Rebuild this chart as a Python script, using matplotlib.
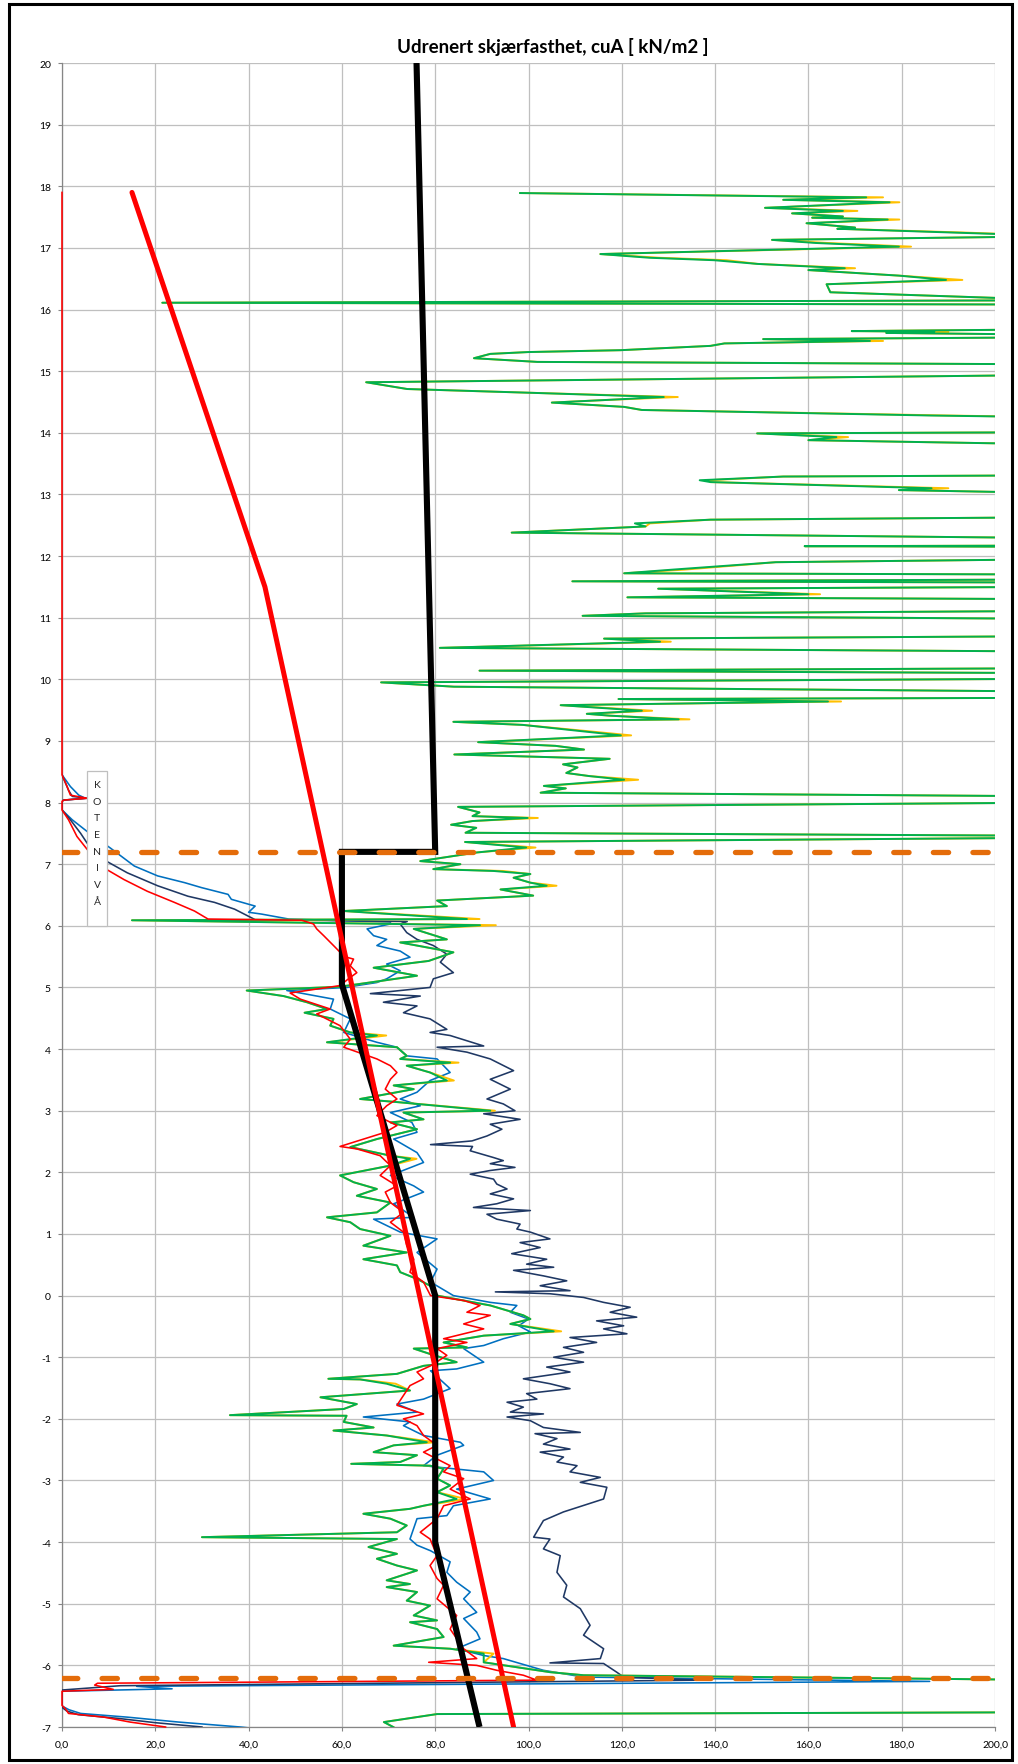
import numpy as np
import matplotlib
matplotlib.use("Agg")
import matplotlib.pyplot as plt
from matplotlib.patches import Rectangle
from matplotlib.ticker import FuncFormatter

plt.rcParams['font.family'] = ['Lato', 'DejaVu Sans']
plt.rcParams['axes.unicode_minus'] = False

# ---------------------------------------------------------------- data
title = "Udrenert skjærfasthet, cuA [ kN/m2 ]"
x_ticks = [0, 20, 40, 60, 80, 100, 120, 140, 160, 180, 200]
y_ticks = list(range(-7, 21))
level_label = "KOTENIVÅ"

# Profile 1 (dark blue): level [m] and cuA [kN/m2]
navy_z = [8.45, 8.20, 8.10, 8.07, 8.04, 8.02, 7.88, 7.72, 7.50, 7.34,
          7.10, 6.86, 6.65, 6.48, 6.38, 6.27, 6.10, 6.07, 6.03, 5.89,
          5.78, 5.68, 5.54, 5.41, 5.24, 5.14, 5.00, 4.90, 4.86, 4.76,
          4.70, 4.59, 4.49, 4.32, 4.27, 4.22, 4.05, 4.03, 3.95, 3.84,
          3.65, 3.51, 3.35, 3.19, 3.11, 3.00, 2.95, 2.86, 2.78, 2.70,
          2.59, 2.51, 2.45, 2.42, 2.35, 2.24, 2.19, 2.14, 2.08, 2.03,
          1.97, 1.89, 1.81, 1.73, 1.65, 1.57, 1.49, 1.43, 1.38, 1.32,
          1.24, 1.16, 1.08, 1.03, 0.92, 0.86, 0.78, 0.68, 0.59, 0.51,
          0.46, 0.41, 0.32, 0.24, 0.16, 0.08, 0.06, 0.03, -0.03, -0.11,
          -0.19, -0.27, -0.35, -0.41, -0.49, -0.54, -0.62, -0.68, -0.76, -0.84,
          -0.92, -1.00, -1.08, -1.16, -1.24, -1.35, -1.43, -1.51, -1.59, -1.68,
          -1.73, -1.81, -1.89, -1.92, -1.97, -2.03, -2.14, -2.22, -2.24, -2.32,
          -2.41, -2.49, -2.54, -2.62, -2.70, -2.76, -2.86, -2.95, -3.03, -3.11,
          -3.30, -3.51, -3.65, -3.92, -3.95, -4.11, -4.22, -4.49, -4.70, -4.89,
          -5.08, -5.35, -5.51, -5.73, -5.89, -5.96, -5.97, -6.11, -6.19, -6.24,
          -6.33, -6.40, -6.68, -6.74, -6.80, -6.86, -6.93, -7.00]
navy_cu = [0.0, 1.4, 2.2, 5.4, 0.4, 0.0, 0.0, 1.8, 4.0, 5.4,
           8.3, 14.0, 20.5, 27.0, 32.7, 37.0, 41.4, 74.0, 72.5, 73.9,
           76.1, 79.6, 82.5, 81.1, 83.9, 79.6, 78.9, 66.1, 76.8, 68.9,
           76.1, 73.2, 78.9, 82.5, 78.9, 83.2, 90.4, 80.4, 86.8, 91.8,
           96.8, 91.8, 96.1, 91.1, 94.6, 97.1, 90.4, 98.2, 91.8, 94.3,
           91.1, 87.9, 79.0, 88.0, 87.5, 92.5, 94.6, 91.8, 97.1, 91.8,
           87.5, 92.5, 93.2, 95.4, 91.8, 96.8, 93.2, 88.2, 100.4, 91.1,
           93.2, 98.2, 97.5, 100.4, 104.6, 98.2, 102.5, 96.4, 103.9, 99.6,
           105.4, 96.8, 103.2, 108.2, 102.5, 108.9, 92.9, 104.6, 111.8, 116.1,
           121.8, 117.5, 123.2, 114.6, 120.4, 116.1, 121.1, 108.9, 114.6, 107.5,
           111.8, 105.4, 111.8, 103.9, 108.9, 98.9, 104.6, 108.9, 99.6, 101.8,
           95.4, 98.9, 96.1, 103.2, 95.4, 100.4, 103.2, 111.1, 101.4, 106.1,
           103.2, 108.9, 102.5, 107.5, 106.1, 110.4, 108.9, 115.4, 111.1, 116.8,
           116.1, 107.5, 103.2, 101.1, 104.6, 103.2, 106.8, 106.1, 108.2, 107.5,
           111.1, 113.2, 111.8, 116.1, 115.4, 104.6, 116.1, 118.9, 120.4, 137.0,
           12.5, 0.0, 0.0, 1.0, 3.5, 12.0, 20.0, 30.0]

# Profile 2 (blue)
blue_z = [8.45, 8.26, 8.12, 8.07, 8.04, 8.02, 7.88, 7.72, 7.53, 7.26,
          6.97, 6.81, 6.70, 6.62, 6.51, 6.43, 6.32, 6.22, 6.19, 6.11,
          6.06, 6.03, 5.95, 5.84, 5.78, 5.68, 5.59, 5.49, 5.38, 5.27,
          5.14, 5.08, 5.03, 5.00, 4.95, 4.81, 4.65, 4.49, 4.27, 4.11,
          4.03, 3.89, 3.84, 3.62, 3.49, 3.30, 3.19, 3.08, 2.97, 2.81,
          2.65, 2.54, 2.32, 2.16, 1.95, 1.78, 1.68, 1.49, 1.27, 1.24,
          1.03, 0.92, 0.70, 0.43, 0.22, 0.00, -0.11, -0.16, -0.27, -0.38,
          -0.49, -0.59, -0.70, -0.81, -0.86, -1.08, -1.19, -1.22, -1.51, -1.68,
          -1.76, -1.89, -1.97, -2.05, -2.11, -2.27, -2.38, -2.43, -2.59, -2.76,
          -2.86, -3.00, -3.14, -3.30, -3.41, -3.57, -3.62, -3.95, -4.05, -4.14,
          -4.32, -4.49, -4.65, -4.81, -4.92, -5.14, -5.24, -5.46, -5.57, -5.73,
          -5.84, -5.89, -6.08, -6.19, -6.26, -6.34, -6.38, -6.42, -6.66, -6.72,
          -6.78, -6.84, -6.92, -7.00, -7.03]
blue_cu = [0.0, 1.8, 3.6, 5.0, 0.3, 0.0, 0.0, 2.2, 5.4, 10.4,
           15.5, 20.5, 26.3, 29.9, 35.6, 36.3, 41.4, 40.0, 42.8, 48.6,
           70.4, 70.4, 65.4, 66.8, 69.6, 67.5, 72.5, 74.6, 69.6, 72.5,
           69.6, 67.5, 63.2, 61.1, 48.2, 58.2, 57.5, 61.8, 60.4, 67.5,
           71.8, 73.9, 80.4, 83.2, 78.9, 76.1, 72.5, 76.8, 70.4, 75.0,
           76.1, 71.1, 76.1, 77.5, 70.4, 75.4, 77.5, 71.1, 75.4, 66.8,
           72.5, 80.4, 76.1, 80.4, 79.0, 83.9, 91.8, 97.5, 96.1, 100.0,
           97.9, 100.4, 94.6, 90.4, 86.1, 90.4, 84.6, 79.0, 83.2, 77.5,
           71.8, 76.1, 64.6, 74.6, 73.2, 77.5, 85.4, 86.1, 80.4, 77.5,
           90.4, 92.5, 84.6, 91.8, 83.9, 82.5, 76.1, 74.6, 76.1, 79.0,
           83.2, 82.5, 84.6, 87.5, 86.1, 88.9, 86.1, 88.9, 89.6, 84.6,
           90.4, 94.6, 103.2, 111.8, 186.0, 16.0, 23.6, 0.0, 0.0, 1.5,
           4.0, 14.0, 25.0, 38.2, 42.0]

# Profile 3 (red, thin)
red_z = [17.90, 8.45, 8.26, 8.12, 8.07, 8.04, 8.02, 7.88, 7.72, 7.45,
         7.24, 6.97, 6.75, 6.56, 6.38, 6.24, 6.11, 6.09, 6.03, 5.95,
         5.84, 5.68, 5.51, 5.49, 5.46, 5.35, 5.24, 5.14, 5.03, 4.91,
         4.81, 4.65, 4.57, 4.38, 4.16, 4.03, 3.84, 3.73, 3.62, 3.51,
         3.35, 3.19, 3.08, 2.92, 2.76, 2.65, 2.42, 2.38, 2.27, 2.11,
         1.95, 1.78, 1.68, 1.51, 1.35, 1.19, 1.03, 0.81, 0.59, 0.38,
         0.22, 0.00, -0.08, -0.16, -0.27, -0.32, -0.46, -0.54, -0.70, -0.76,
         -0.86, -0.97, -1.14, -1.24, -1.35, -1.46, -1.78, -1.92, -2.00, -2.11,
         -2.27, -2.43, -2.54, -2.76, -2.86, -2.97, -3.14, -3.30, -3.41, -3.62,
         -3.84, -3.95, -4.22, -4.38, -4.59, -4.70, -4.92, -5.19, -5.41, -5.73,
         -5.89, -5.95, -6.00, -6.08, -6.16, -6.24, -6.29, -6.32, -6.39, -6.42,
         -6.65, -6.70, -6.78, -6.84, -6.92, -7.00]
red_cu = [0.0, 0.0, 1.1, 1.8, 5.4, 0.4, 0.0, 0.0, 1.4, 3.2,
          5.4, 8.3, 13.3, 18.3, 24.1, 28.4, 31.3, 51.4, 53.9, 54.6,
          56.1, 58.2, 60.4, 61.0, 62.5, 61.8, 63.2, 61.4, 59.6, 48.9,
          51.1, 57.5, 54.6, 59.6, 61.8, 60.4, 67.5, 70.4, 71.8, 70.4,
          69.3, 71.8, 69.6, 67.5, 71.8, 69.3, 59.6, 63.2, 68.2, 70.4,
          68.2, 71.8, 69.3, 70.4, 73.2, 70.4, 73.2, 73.9, 75.4, 74.6,
          77.5, 79.0, 86.1, 89.6, 86.8, 91.8, 86.1, 90.4, 81.8, 86.8,
          80.4, 82.5, 79.0, 76.1, 77.5, 74.6, 71.8, 77.5, 73.2, 76.1,
          77.5, 80.4, 77.5, 83.2, 81.8, 86.1, 83.2, 87.5, 81.8, 80.4,
          76.8, 78.9, 80.4, 78.9, 80.4, 81.8, 80.4, 84.6, 83.2, 86.1,
          88.9, 78.6, 88.9, 93.2, 98.9, 101.8, 7.6, 7.0, 11.0, 0.0,
          0.0, 0.7, 1.4, 9.0, 14.6, 22.2]

# Profile 4 (green)
green_z = [17.89, 17.82, 17.78, 17.74, 17.65, 17.60, 17.56, 17.51, 17.49, 17.46,
           17.40, 17.33, 17.31, 17.25, 17.19, 17.13, 17.08, 17.02, 16.90, 16.84,
           16.80, 16.74, 16.67, 16.64, 16.55, 16.48, 16.41, 16.28, 16.15, 16.11,
           16.08, 15.68, 15.65, 15.64, 15.62, 15.59, 15.55, 15.52, 15.49, 15.45,
           15.41, 15.34, 15.31, 15.28, 15.21, 15.15, 15.11, 14.94, 14.82, 14.71,
           14.65, 14.58, 14.53, 14.49, 14.42, 14.37, 14.28, 14.25, 14.01, 13.99,
           13.93, 13.88, 13.81, 13.31, 13.29, 13.23, 13.20, 13.10, 13.07, 13.02,
           12.63, 12.59, 12.53, 12.48, 12.38, 12.29, 12.17, 12.16, 12.15, 11.95,
           11.90, 11.78, 11.72, 11.70, 11.62, 11.59, 11.57, 11.50, 11.47, 11.38,
           11.33, 11.30, 11.11, 11.07, 11.03, 10.98, 10.70, 10.66, 10.61, 10.51,
           10.45, 10.18, 10.14, 10.10, 10.01, 9.95, 9.88, 9.80, 9.70, 9.68,
           9.64, 9.58, 9.49, 9.44, 9.41, 9.35, 9.31, 9.26, 9.09, 8.98,
           8.92, 8.86, 8.78, 8.71, 8.62, 8.57, 8.48, 8.43, 8.37, 8.27,
           8.23, 8.16, 8.10, 8.00, 7.93, 7.84, 7.78, 7.75, 7.70, 7.64,
           7.59, 7.51, 7.46, 7.43, 7.36, 7.27, 7.19, 7.05, 7.00, 6.92,
           6.89, 6.84, 6.78, 6.70, 6.65, 6.59, 6.49, 6.41, 6.32, 6.24,
           6.11, 6.09, 6.01, 5.95, 5.78, 5.73, 5.57, 5.43, 5.32, 5.19,
           5.05, 5.01, 4.95, 4.86, 4.76, 4.65, 4.59, 4.49, 4.38, 4.27,
           4.22, 4.11, 4.03, 3.89, 3.84, 3.78, 3.73, 3.62, 3.49, 3.41,
           3.35, 3.19, 3.14, 3.00, 2.97, 2.86, 2.81, 2.70, 2.54, 2.41,
           2.27, 2.22, 2.11, 1.95, 1.84, 1.73, 1.62, 1.51, 1.35, 1.27,
           1.19, 1.08, 0.97, 0.81, 0.70, 0.59, 0.49, 0.38, 0.27, 0.16,
           0.00, -0.08, -0.16, -0.32, -0.38, -0.46, -0.58, -0.65, -0.76, -0.84,
           -0.86, -0.95, -1.08, -1.14, -1.27, -1.35, -1.36, -1.43, -1.54, -1.65,
           -1.76, -1.84, -1.94, -1.95, -2.05, -2.14, -2.19, -2.27, -2.38, -2.43,
           -2.54, -2.59, -2.70, -2.73, -2.76, -2.81, -2.97, -3.08, -3.19, -3.30,
           -3.41, -3.46, -3.54, -3.62, -3.73, -3.84, -3.92, -3.95, -4.08, -4.19,
           -4.27, -4.38, -4.46, -4.62, -4.68, -4.73, -4.81, -4.95, -5.03, -5.19,
           -5.27, -5.30, -5.41, -5.54, -5.68, -5.73, -5.81, -5.95, -6.03, -6.11,
           -6.16, -6.24, -6.76, -6.79, -6.92, -7.00, -7.05]
green_cu = [98.2, 172.4, 154.6, 177.4, 150.7, 167.4, 156.5, 167.4, 160.8, 177.0,
            159.6, 170.0, 166.2, 190.2, 215.0, 152.2, 161.5, 179.4, 115.4, 125.9,
            139.8, 149.1, 167.8, 160.0, 179.4, 189.5, 163.9, 164.7, 215.0, 21.5,
            215.0, 215.0, 169.3, 187.0, 176.7, 215.0, 215.0, 150.3, 173.2, 142.0,
            139.0, 119.7, 100.0, 91.8, 88.3, 101.9, 215.0, 215.0, 65.2, 74.0,
            100.0, 129.0, 116.0, 105.0, 120.5, 124.3, 186.4, 215.0, 215.0, 149.0,
            166.0, 160.0, 215.0, 215.0, 154.6, 136.7, 139.0, 186.4, 179.4, 215.0,
            215.0, 139.0, 122.8, 125.1, 96.4, 215.0, 215.0, 159.2, 215.0, 215.0,
            153.0, 131.0, 120.5, 215.0, 215.0, 109.4, 215.0, 215.0, 127.8, 160.0,
            121.2, 215.0, 215.0, 125.1, 111.6, 215.0, 215.0, 116.2, 128.2, 81.0,
            215.0, 215.0, 89.5, 215.0, 215.0, 68.4, 84.0, 215.0, 215.0, 119.3,
            164.2, 106.9, 124.3, 112.5, 117.4, 132.2, 83.9, 98.8, 119.8, 89.2,
            105.8, 111.9, 84.1, 117.4, 107.4, 110.5, 108.1, 113.0, 120.5, 103.3,
            108.0, 102.6, 215.0, 215.0, 84.9, 89.5, 88.0, 99.8, 88.0, 83.4,
            88.8, 86.5, 215.0, 215.0, 86.4, 99.5, 88.9, 76.8, 85.4, 79.6,
            92.5, 100.4, 96.8, 100.4, 103.9, 94.0, 101.0, 80.4, 82.5, 60.4,
            86.8, 15.0, 89.6, 75.4, 82.5, 72.5, 83.9, 78.6, 66.8, 76.1,
            63.2, 59.3, 39.6, 47.5, 52.5, 56.8, 52.0, 58.2, 57.5, 61.8,
            67.5, 56.8, 71.8, 73.9, 72.5, 83.2, 73.9, 78.9, 82.5, 71.1,
            75.4, 63.9, 71.8, 91.8, 73.2, 77.5, 70.4, 76.1, 67.5, 61.8,
            70.4, 74.6, 70.4, 59.6, 62.5, 67.5, 63.2, 70.4, 67.5, 56.8,
            61.8, 63.9, 70.4, 64.6, 73.9, 64.6, 71.8, 72.5, 76.1, 78.9,
            80.4, 86.1, 91.8, 98.9, 100.4, 96.1, 105.4, 90.4, 81.8, 86.8,
            75.4, 79.0, 84.6, 77.5, 71.8, 57.1, 63.9, 69.6, 74.6, 55.4,
            63.2, 60.4, 36.0, 61.0, 60.4, 66.8, 58.2, 69.6, 78.2, 71.1,
            66.8, 76.1, 72.5, 62.0, 78.9, 81.8, 80.4, 83.2, 80.4, 84.6,
            77.5, 74.6, 64.6, 70.4, 73.9, 71.8, 30.0, 71.8, 65.7, 71.8,
            67.5, 71.8, 76.1, 69.6, 74.6, 69.6, 76.1, 73.9, 78.9, 75.4,
            80.4, 74.6, 80.4, 81.8, 71.1, 83.2, 90.4, 90.4, 97.5, 104.6,
            111.8, 215.0, 215.0, 80.4, 69.0, 71.0, 72.0]

# Profile 5 (yellow) follows profile 4 except at these levels
yellow_z = [17.82, 17.74, 17.60, 17.46, 17.25, 17.08, 17.02, 16.84, 16.80, 16.67,
            16.48, 15.64, 15.49, 14.58, 14.28, 13.93, 13.23, 13.10, 12.53, 11.78,
            11.38, 10.61, 9.64, 9.49, 9.35, 9.09, 8.37, 7.75, 7.27, 6.89,
            6.65, 6.11, 6.01, 4.22, 3.78, 3.49, 3.00, 2.22, -0.58, -1.43,
            -2.38, -3.30, -5.81]
yellow_cu = [176.0, 179.5, 170.5, 179.5, 193.0, 164.0, 182.0, 128.0, 142.5, 170.0,
             193.0, 190.0, 176.0, 132.0, 190.0, 168.5, 138.5, 190.0, 126.0, 133.5,
             162.5, 130.5, 167.0, 126.5, 134.5, 122.0, 123.5, 102.0, 101.5, 94.5,
             106.0, 89.5, 93.0, 69.5, 85.0, 84.0, 92.8, 76.0, 107.0, 71.5,
             80.0, 86.5, 92.5]

# Design line (black) and trend line (red)
design_z = [20.0, 7.2, 7.2, 5.05, 0.0, -4.0, -7.0]
design_cu = [76.0, 80.0, 60.0, 60.0, 80.0, 80.0, 89.5]
trend_z = [17.9, 11.5, -7.0]
trend_cu = [15.0, 43.5, 96.8]

# Layer boundaries (orange dashed)
boundary_z = [7.2, -6.2]

# ---------------------------------------------------------------- figure
W, H = 1018, 1765
fig = plt.figure(figsize=(W / 100, H / 100), dpi=100)
ax = fig.add_axes([62 / W, 1 - 1728 / H, (995 - 62) / W, (1728 - 64) / H])
ax.set_xlim(0, 200)
ax.set_ylim(-7, 20)

for name, arr in [("navy", (navy_z, navy_cu)), ("blue", (blue_z, blue_cu)),
                  ("red", (red_z, red_cu)), ("green", (green_z, green_cu)),
                  ("yellow", (yellow_z, yellow_cu))]:
    assert len(arr[0]) == len(arr[1]), name

green_z_a = np.array(green_z)
yellow_line = np.array(green_cu, dtype=float)
for z, v in zip(yellow_z, yellow_cu):
    yellow_line[np.argmin(np.abs(green_z_a - z))] = v

lw_thin = 1.15
ax.plot(blue_cu, blue_z, color="#0070C0", lw=lw_thin, zorder=3)
ax.plot(navy_cu, navy_z, color="#1F3864", lw=lw_thin, zorder=3)
ax.plot(yellow_line, green_z, color="#FFC000", lw=1.4, zorder=4)
ax.plot(green_cu, green_z, color="#00B050", lw=1.4, zorder=5)
ax.plot(red_cu, red_z, color="#FF0000", lw=lw_thin, zorder=6, clip_on=False)

ax.plot(design_cu, design_z, color="black", lw=4.4, zorder=7,
        solid_joinstyle="miter", solid_capstyle="butt")
ax.plot(trend_cu, trend_z, color="#FF0000", lw=3.6, zorder=8,
        solid_capstyle="round", solid_joinstyle="round")

for zb in boundary_z:
    ax.plot([0, 200], [zb, zb], color="#E46C0A", lw=3.8, zorder=9,
            dashes=(2.9, 4.6), dash_capstyle="round")

# level label box
ax.add_patch(Rectangle((5.36, 5.99), 4.29, 2.52, facecolor="white",
                       edgecolor="#BFBFBF", lw=0.9, zorder=10))
for i, ch in enumerate(level_label):
    ax.text(7.5, 8.295 - i * 0.2705, ch, ha="center", va="center",
            fontsize=7.5, color="#262626", zorder=11)

# axes styling
ax.set_xticks(x_ticks)
ax.set_yticks(y_ticks)
ax.xaxis.set_major_formatter(FuncFormatter(lambda v, p: f"{v:.1f}".replace(".", ",")))
ax.yaxis.set_major_formatter(FuncFormatter(lambda v, p: f"{int(round(v))}"))
ax.grid(True, color="#BFBFBF", lw=0.9, zorder=0)
ax.set_axisbelow(True)
for s in ("top", "right"):
    ax.spines[s].set_visible(False)
for s in ("left", "bottom"):
    ax.spines[s].set_color("#868686")
    ax.spines[s].set_linewidth(0.9)
ax.tick_params(axis="both", colors="#868686", length=3, width=0.8,
               labelsize=7.5, labelcolor="#000000")
ax.tick_params(axis="y", pad=5)
ax.tick_params(axis="x", pad=6)

fig.text(553 / W, 1 - 47 / H, title, ha="center", va="center",
         fontsize=13.5, fontweight="bold")

# chart frame
fig.add_artist(Rectangle((9 / W, 1 - 1761 / H), (1012 - 9) / W, (1761 - 5) / H,
                         transform=fig.transFigure, fill=False,
                         edgecolor="black", lw=2.2))

fig.savefig("out.png", dpi=100)
